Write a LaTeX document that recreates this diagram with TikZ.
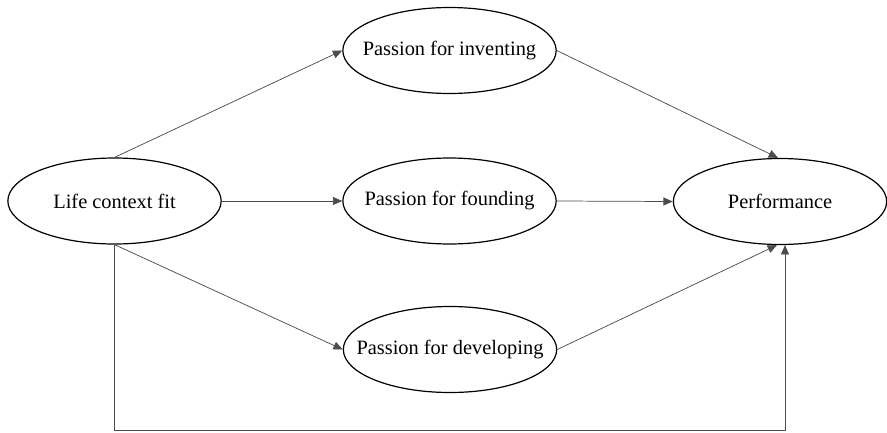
\documentclass[tikz,border=0pt]{standalone}
\usepackage{fontspec}
\setmainfont{Liberation Serif}
\usetikzlibrary{arrows.meta,shapes.geometric}
\newcommand{\ctext}[1]{\makebox[0pt][c]{#1}}
\begin{document}
\begin{tikzpicture}[x=0.75pt,y=-0.75pt,
  construct/.style={draw=black,line width=0.9pt,ellipse,minimum width=160pt,minimum height=64.5pt,inner sep=0pt,font=\fontsize{15.3}{18}\selectfont},
  path/.style={draw=black!70,line width=0.55pt,-{Triangle[length=7pt,width=6pt]}}]
\useasboundingbox (0,0) rectangle (887,432);
\node[construct] (life) at (114.5,201) {\ctext{Life context fit}};
\node[construct] (inv) at (449.5,50.5) {\ctext{Passion for inventing}};
\node[construct] (fou) at (449.5,201) {\ctext{Passion for founding}};
\node[construct] (dev) at (450,349.5) {\ctext{Passion for developing}};
\node[construct] (perf) at (780,201.5) {\ctext{Performance}};
\coordinate (pb) at ([xshift=5*0.75pt]perf.south);
\coordinate (corner1) at (life.south |- 0,430.5);
\coordinate (corner2) at (pb |- 0,430.5);
\draw[path] (life.north) -- (inv.west);
\draw[path] (life.east) -- (fou.west);
\draw[path] (life.south) -- (dev.west);
\draw[path] (inv.east) -- ([xshift=-2*0.75pt]perf.north);
\draw[path] (fou.east) -- (perf.west);
\draw[path] (dev.east) -- ([xshift=-3*0.75pt]perf.south);
\draw[path] (life.south) -- (corner1) -- (corner2) -- (pb);
\end{tikzpicture}
\end{document}
